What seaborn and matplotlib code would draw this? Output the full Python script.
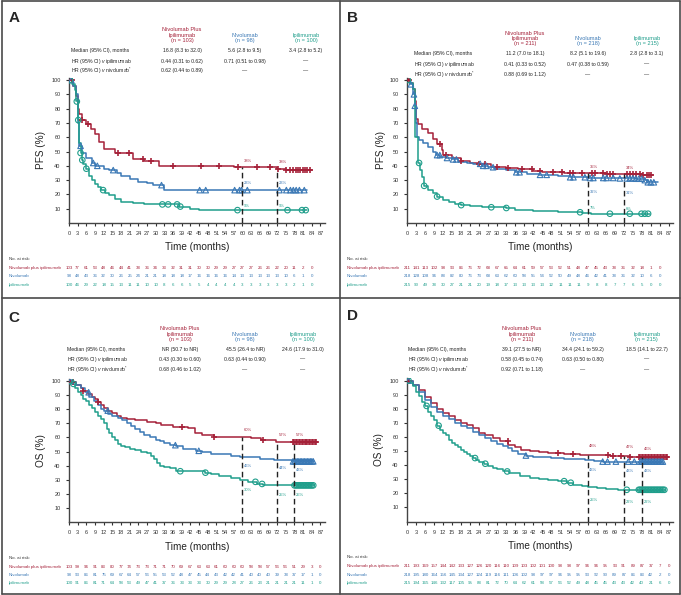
import numpy as np
import matplotlib.pyplot as plt
import matplotlib.transforms as mtransforms
from matplotlib.lines import Line2D
import seaborn as sns

RED, BLUE, TEAL = '#a52139', '#3a78b5', '#1f9e8b'
colors = [RED, BLUE, TEAL]
markers = ['+', '^', 'o']
arm_names = ['Nivolumab plus ipilimumab', 'Nivolumab', 'Ipilimumab']
month_ticks = list(range(0, 88, 3))
pct_ticks = list(range(10, 101, 10))
row_labels = ['Median (95% CI), months',
              'HR (95% CI) $\\mathit{v}$ ipilimumab',
              'HR (95% CI) $\\mathit{v}$ nivolumab$^{*}$']

# %% panel A (PFS)
a_ni_t = [0, 1.5, 2.5, 3, 3.5, 4.5, 6, 7.5, 9, 10.5, 12, 16, 22, 26, 31, 57, 72, 75, 84]
a_ni_s = [100, 96, 89, 80, 76, 72, 69, 66, 62, 57, 52, 49, 45, 43.5, 40, 39, 38, 37, 37]
a_ni_cens = [1.0, 4.5, 6.5, 17, 20.6, 25.7, 28.2, 36.1, 45.8, 52, 58.6, 65.2, 69.6, 72.4, 75,
             76.5, 77.6, 78.5, 79.2, 80, 80.8, 81.5, 82.3, 83.5]
a_n_t = [0, 1.5, 2.5, 3, 3.5, 4.5, 6, 8, 9, 12, 14, 16.5, 18, 21, 24, 27, 29, 33, 82.3]
a_n_s = [100, 96, 90, 70, 54, 49, 45.5, 42, 40, 38, 37, 35, 33, 31, 29, 28, 26.5, 23, 23]
a_n_cens = [0.8, 4, 8.4, 9.8, 15.3, 32, 45.2, 47.3, 57.3, 59, 59.7, 61.7, 72.8, 75.2, 76.6,
            77.6, 78.6, 79.7, 81.4]
a_i_t = [0, 1, 2, 2.5, 3, 3.5, 4, 4.5, 5, 6, 7, 8, 9, 10, 11, 12.5, 14, 16, 18, 22, 26, 38, 42, 45, 82.3]
a_i_s = [100, 97, 93, 85, 72, 56, 49, 44, 41, 38, 33, 30, 27, 25, 23, 21, 19.5, 17, 14.5, 14, 13,
         11.5, 10, 9, 9]
a_i_cens = [0.3, 2.7, 3.2, 4, 4.6, 6, 11.8, 32.3, 34.3, 37.4, 38.5, 58.3, 75.6, 80.6, 81.9]
a_risk_ni = [103, 77, 61, 53, 48, 46, 44, 41, 38, 36, 34, 33, 32, 31, 31, 30, 30, 29, 29, 27,
             27, 27, 26, 26, 22, 20, 11, 2, 0]
a_risk_n = [98, 48, 43, 36, 32, 30, 26, 25, 24, 21, 21, 18, 18, 18, 17, 16, 16, 16, 16, 14,
            13, 13, 13, 13, 13, 10, 6, 1, 0]
a_risk_i = [100, 46, 29, 22, 18, 15, 13, 11, 11, 10, 10, 8, 6, 6, 5, 5, 4, 4, 4, 4,
            3, 3, 3, 3, 3, 3, 2, 1, 0]
a_landmarks = [60, 72]
a_pct = [[38, 23, 9], [38, 23, 9]]
a_header = ['Nivolumab Plus\nIpilimumab\n(n = 103)', 'Nivolumab\n(n = 98)', 'Ipilimumab\n(n = 100)']
a_median = ['16.8 (8.3 to 32.0)', '5.6 (2.8 to 9.5)', '3.4 (2.8 to 5.2)']
a_hr_ipi = ['0.44 (0.31 to 0.62)', '0.71 (0.51 to 0.98)', '—']
a_hr_nivo = ['0.62 (0.44 to 0.89)', '—', '—']

# %% panel B (PFS)
b_ni_t = [0, 1, 2, 2.5, 3, 3.8, 5, 7, 8.5, 10, 11.5, 12, 15, 18, 21, 24, 28, 33, 37, 42, 45,
          52, 66, 72, 78, 81.8]
b_ni_s = [100, 98, 94, 85, 73, 69, 66, 63, 59, 55, 51, 47.5, 45.5, 43.5, 42, 41, 39.5, 38.5,
          37.5, 36.5, 35.5, 35, 34.5, 34, 33.5, 33.5]
b_ni_cens = [0.5, 11, 13, 18, 24, 26, 29.8, 33.7, 38.1, 41.4, 44.2, 48.6, 51.4, 54.2, 55.3, 58,
             61.4, 62.5, 65.2, 66.3, 67.4, 68.5, 73, 74, 75.2, 76, 77.4, 78.5, 79.6, 80.5, 81.2]
b_n_t = [0, 1, 2, 2.6, 3, 3.4, 4, 5.3, 7, 8.5, 9.5, 11, 13, 15, 17, 20, 22, 25, 27, 29, 33, 36,
         40, 44, 50, 54, 60, 70, 76, 79, 80, 83.4]
b_n_s = [100, 97, 90, 82, 70, 60, 58, 56, 53.5, 50, 47.5, 46.5, 45.5, 44.5, 43, 42, 41.4, 40,
         39, 37.7, 37, 35.5, 34.5, 33.7, 32.7, 32, 31.5, 31.2, 31, 30, 28.5, 28.5]
b_n_cens = [1.3, 2.3, 2.6, 10, 10.9, 13.3, 15.3, 16.4, 24.3, 25.3, 26.4, 28.6, 36.3, 37.4, 44.2,
            46.4, 54.2, 55.3, 59.1, 60.8, 61.9, 65.2, 66.3, 68.5, 70.7, 73, 74, 75, 76, 77, 78,
            79, 80, 81, 82]
b_i_t = [0, 1, 2, 2.7, 3.5, 4.2, 5, 5.5, 7, 8.5, 10, 12, 14, 16, 18, 21, 25, 28, 33, 36, 42, 50,
         56, 58, 61, 80.7]
b_i_s = [100, 98, 94, 60, 42, 37, 32, 26, 23, 21, 18.5, 16, 14.5, 13.5, 12.5, 12, 11.5, 11,
         10.5, 9, 8.5, 8, 7.5, 7, 6.5, 6.5]
b_i_cens = [0.3, 4, 5.7, 10, 18, 28, 33, 57.5, 67.4, 74, 77.9, 79, 80.1]
b_risk_ni = [211, 141, 113, 102, 98, 93, 86, 76, 72, 68, 67, 65, 64, 61, 59, 57, 53, 52, 51,
             48, 47, 45, 43, 38, 36, 32, 18, 1, 0]
b_risk_n = [218, 128, 108, 96, 88, 82, 80, 76, 73, 68, 63, 62, 60, 58, 55, 54, 52, 50, 49, 48,
            46, 42, 41, 38, 36, 32, 10, 6, 0]
b_risk_i = [215, 90, 49, 38, 30, 27, 21, 21, 20, 19, 18, 17, 13, 13, 13, 13, 12, 11, 11, 11,
            9, 8, 8, 7, 7, 6, 5, 0, 0]
b_landmarks = [60, 72]
b_pct = [[35, 32, 7], [34, 31, 6]]
b_header = ['Nivolumab Plus\nIpilimumab\n(n = 211)', 'Nivolumab\n(n = 218)', 'Ipilimumab\n(n = 215)']
b_median = ['11.2 (7.0 to 18.1)', '8.2 (5.1 to 19.6)', '2.8 (2.8 to 3.1)']
b_hr_ipi = ['0.41 (0.33 to 0.52)', '0.47 (0.38 to 0.59)', '—']
b_hr_nivo = ['0.88 (0.69 to 1.12)', '—', '—']

# %% panel C (OS)
c_ni_t = [0, 1, 2.5, 4, 5, 6.5, 8, 9, 10, 11, 12, 13.5, 15, 16.5, 18, 20, 23, 27, 30, 32, 36,
          41, 43.5, 46, 50, 56, 63, 66.5, 71.5, 85.8]
c_ni_s = [100, 99, 97, 95, 93, 91, 89, 87, 85, 83, 81, 79, 77, 75.5, 74, 73, 72, 71, 70, 68.5,
          67.5, 66.5, 63, 62, 60.5, 60, 59.5, 58.5, 57, 57]
c_ni_cens = [0.5, 1.5, 5, 10, 39, 50, 67, 77.5, 78, 78.5, 79, 79.5, 80, 80.5, 81, 81.5, 82,
             82.5, 83, 83.5, 84, 84.5, 85, 85.5]
c_n_t = [0, 1, 2.5, 4, 5.5, 7, 8.5, 10, 11, 12, 13.5, 15, 17, 18.5, 20, 21.5, 23, 24.5, 26, 28,
         30, 31.5, 33, 35, 37, 39.5, 42, 44, 46, 49, 52, 56, 59, 66, 71, 77, 84.6]
c_n_s = [100, 99, 97, 95, 92, 89, 86, 83, 80.5, 79, 76.5, 75, 73.5, 72, 70.5, 68, 66, 64, 62, 60,
         58.5, 57.5, 56, 54.5, 54, 52, 51.5, 50.5, 49.5, 48.5, 48, 47, 46, 45, 44, 43, 43]
c_n_cens = [0.5, 6.8, 13.4, 36.8, 44.9, 77.5, 78, 78.5, 79, 79.5, 80, 80.5, 81, 81.5, 82, 82.5,
            83, 83.5, 84, 84.5]
c_i_t = [0, 1, 2, 3, 4, 5, 6, 7, 8, 9, 10, 11, 12, 13, 14, 15, 16, 17, 18, 19.5, 21, 23, 25, 27,
         28.5, 29.5, 30.5, 31.5, 33, 35, 37, 47, 49, 52, 56, 59, 62, 65, 67, 84.6]
c_i_s = [100, 98, 95, 92, 90, 87, 86, 83, 81, 78, 75, 73, 70, 66, 63, 60, 58, 55, 54, 53, 52, 51,
         50, 49, 47, 45, 42, 40, 39, 38, 36, 35, 34, 32.5, 31, 30, 28.5, 27, 26, 26]
c_i_cens = [0.5, 1.5, 38.5, 47.2, 64.5, 66.8, 78, 78.5, 79, 79.5, 80, 80.5, 81, 81.5, 82, 82.5,
            83, 83.5, 84, 84.5]
c_risk_ni = [103, 99, 96, 91, 83, 80, 77, 74, 73, 73, 71, 71, 70, 69, 67, 63, 63, 61, 60, 60,
             60, 58, 58, 57, 56, 56, 51, 29, 3, 0]
c_risk_n = [98, 93, 86, 81, 75, 69, 67, 64, 57, 56, 55, 53, 52, 48, 47, 45, 44, 43, 42, 42,
            41, 40, 40, 40, 39, 38, 37, 17, 1, 0]
c_risk_i = [100, 91, 86, 81, 71, 64, 58, 53, 49, 47, 41, 37, 36, 33, 33, 33, 30, 29, 29, 28,
            27, 26, 23, 21, 21, 21, 21, 11, 1, 0]
c_landmarks = [60, 72, 78]
c_pct = [[60, 46, 30], [57, 44, 25], [57, 43, 25]]
c_header = ['Nivolumab Plus\nIpilimumab\n(n = 103)', 'Nivolumab\n(n = 98)', 'Ipilimumab\n(n = 100)']
c_median = ['NR (50.7 to NR)', '45.5 (26.4 to NR)', '24.6 (17.9 to 31.0)']
c_hr_ipi = ['0.43 (0.30 to 0.60)', '0.63 (0.44 to 0.90)', '—']
c_hr_nivo = ['0.68 (0.46 to 1.02)', '—', '—']

# %% panel D (OS)
d_ni_t = [0, 2, 4, 6, 8, 10, 12, 14, 16, 18, 20, 22, 24, 26, 28.5, 31, 33.5, 36, 38, 41, 44, 47,
          52, 57.5, 63, 67.5, 72, 74, 77, 86.8]
d_ni_s = [100, 97, 93, 88, 84, 80, 77, 74.5, 72, 70, 68.5, 66, 63, 61, 59, 57, 54.5, 52.5, 51,
          50, 49, 48.5, 48, 47.5, 47, 46.8, 46.5, 46, 45.5, 45.5]
d_ni_cens = [0.5, 33.4, 50, 55.1, 66.8, 68.4, 71.2, 74, 77, 77.5, 78, 78.5, 79, 79.5, 80, 80.5,
             81, 81.5, 82, 82.5, 83, 83.5, 84, 84.5, 85, 85.5, 86, 86.5]
d_n_t = [0, 2, 4, 6, 8, 10, 12, 14, 16, 18, 20, 22, 24, 26, 28, 30, 32, 33.5, 35, 37, 39.5, 42,
         45, 48, 52, 56, 59, 62, 65, 85.2]
d_n_s = [100, 97, 92, 86, 81, 77.5, 75, 72.5, 70, 68, 66, 63.5, 61, 59, 57, 55, 53.5, 52, 50,
         48, 46.8, 46, 45.5, 45, 44.5, 44, 43.5, 43, 42.5, 42.5]
d_n_cens = [0.5, 39.5, 65, 66.6, 69.4, 73.5, 75.5, 77.5, 78, 78.5, 79, 79.5, 80, 80.5, 81, 81.5,
            82, 82.5, 83, 83.5, 84, 84.5, 85]
d_i_t = [0, 1, 2, 3, 4, 5, 6, 7, 8, 9, 10, 11, 12, 13, 14, 15, 16, 17, 18, 19, 20, 21, 22, 23, 24,
         25.5, 27, 28.5, 30, 32, 34, 37.5, 41, 44, 47, 50, 53, 55, 58, 60, 63, 66, 70, 85.8]
d_i_s = [100, 98, 96, 92, 89, 85, 82, 78, 75, 72, 68, 65, 63, 61, 58, 56, 54, 53, 51, 49.5, 48,
         46.5, 45, 43.5, 42.5, 41, 39.5, 38, 37, 35.5, 34.5, 32, 31, 30.3, 29.5, 28.6, 27.5, 26.2,
         25.5, 24.5, 23.5, 23, 22.5, 22.5]
d_i_cens = [0.5, 6.5, 10.5, 22.6, 26, 33.3, 52.2, 54.4, 73, 77, 77.5, 78, 78.5, 79, 79.5, 80,
            80.5, 81, 81.5, 82, 82.5, 83, 83.5, 84, 84.5, 85, 85.5]
d_risk_ni = [211, 193, 169, 157, 144, 142, 133, 127, 126, 120, 116, 110, 109, 103, 102, 101, 100,
             98, 98, 97, 96, 96, 95, 93, 91, 89, 87, 37, 7, 0]
d_risk_n = [218, 195, 180, 164, 156, 145, 134, 127, 124, 119, 116, 111, 106, 102, 98, 97, 97, 96,
            95, 95, 93, 92, 90, 89, 87, 86, 83, 42, 2, 0]
d_risk_i = [215, 194, 165, 146, 132, 117, 105, 95, 88, 81, 72, 70, 64, 62, 61, 58, 57, 56, 52,
            49, 48, 45, 45, 43, 43, 42, 40, 21, 6, 0]
d_landmarks = [60, 72, 78]
d_pct = [[48, 43, 25], [47, 43, 22], [46, 43, 22]]
d_header = ['Nivolumab Plus\nIpilimumab\n(n = 211)', 'Nivolumab\n(n = 218)', 'Ipilimumab\n(n = 215)']
d_median = ['39.1 (27.5 to NR)', '34.4 (24.1 to 59.2)', '18.5 (14.1 to 22.7)']
d_hr_ipi = ['0.58 (0.45 to 0.74)', '0.63 (0.50 to 0.80)', '—']
d_hr_nivo = ['0.92 (0.71 to 1.18)', '—', '—']

panels = [
    dict(letter='A', ylabel='PFS (%)', t=[a_ni_t, a_n_t, a_i_t], s=[a_ni_s, a_n_s, a_i_s],
         cens=[a_ni_cens, a_n_cens, a_i_cens], risk=[a_risk_ni, a_risk_n, a_risk_i],
         landmarks=a_landmarks, pct=a_pct, header=a_header, rows=[a_median, a_hr_ipi, a_hr_nivo]),
    dict(letter='B', ylabel='PFS (%)', t=[b_ni_t, b_n_t, b_i_t], s=[b_ni_s, b_n_s, b_i_s],
         cens=[b_ni_cens, b_n_cens, b_i_cens], risk=[b_risk_ni, b_risk_n, b_risk_i],
         landmarks=b_landmarks, pct=b_pct, header=b_header, rows=[b_median, b_hr_ipi, b_hr_nivo]),
    dict(letter='C', ylabel='OS (%)', t=[c_ni_t, c_n_t, c_i_t], s=[c_ni_s, c_n_s, c_i_s],
         cens=[c_ni_cens, c_n_cens, c_i_cens], risk=[c_risk_ni, c_risk_n, c_risk_i],
         landmarks=c_landmarks, pct=c_pct, header=c_header, rows=[c_median, c_hr_ipi, c_hr_nivo]),
    dict(letter='D', ylabel='OS (%)', t=[d_ni_t, d_n_t, d_i_t], s=[d_ni_s, d_n_s, d_i_s],
         cens=[d_ni_cens, d_n_cens, d_i_cens], risk=[d_risk_ni, d_risk_n, d_risk_i],
         landmarks=d_landmarks, pct=d_pct, header=d_header, rows=[d_median, d_hr_ipi, d_hr_nivo]),
]

# layout in pixels of the 681x595 canvas
layouts = [
    dict(box=(69, 324.8, 223, 77.9), letter=(14, 17.5), cols=[182, 245, 306], head_bottom=43,
         row_x=71, rows_y=[50.7, 61, 70.7], xlab_y=247, ylab_x=41, risk_x=9,
         risk_y=[259, 267.7, 276, 285], pct_off=[4.5, 5, 3]),
    dict(box=(407, 673.4, 223, 77.9), letter=(352, 17.5), cols=[525, 588, 647], head_bottom=46.5,
         row_x=414, rows_y=[54, 64.3, 74.7], xlab_y=247.3, ylab_x=380.5, risk_x=347,
         risk_y=[259, 267.7, 276, 285], pct_off=[4.5, -10, 3.5]),
    dict(box=(69, 324.8, 522, 378.9), letter=(14, 317.5), cols=[180, 245, 303], head_bottom=342,
         row_x=66.7, rows_y=[349.3, 359.3, 370], xlab_y=547.3, ylab_x=41, risk_x=9,
         risk_y=[557.7, 566.7, 575, 583.3], pct_off=[5, -6, -7]),
    dict(box=(407, 673.4, 521.5, 378.4), letter=(352, 316), cols=[521.7, 582.7, 646.7],
         head_bottom=342, row_x=408.3, rows_y=[349.3, 359.3, 370], xlab_y=546, ylab_x=379,
         risk_x=347, risk_y=[557.3, 566, 575, 583.3], pct_off=[6, -7, -9]),
]

W, H = 681, 595
sns.set_style('ticks')
plt.rcParams['font.family'] = ['Liberation Sans', 'DejaVu Sans']
plt.rcParams['mathtext.fontset'] = 'custom'
plt.rcParams['mathtext.rm'] = 'Liberation Sans'
plt.rcParams['mathtext.it'] = 'Liberation Sans:italic'

fig = plt.figure(figsize=(W / 100, H / 100), dpi=100)


def fx(px):
    return px / W


def fy(py):
    return 1 - py / H


def step_at(t, s, x):
    idx = np.searchsorted(np.asarray(t), np.asarray(x), side='right') - 1
    return np.asarray(s)[idx]


for p, lay in zip(panels, layouts):
    left, right, bottom, top = lay['box']
    ax = fig.add_axes([fx(left), fy(bottom), (right - left) / W, (bottom - top) / H])

    for i in range(3):
        t, s, cens = p['t'][i], p['s'][i], p['cens'][i]
        sns.lineplot(x=t, y=s, drawstyle='steps-post', color=colors[i], linewidth=1.1,
                     estimator=None, sort=False, ax=ax, legend=False, zorder=2)
        cy = step_at(t, s, cens)
        if markers[i] == '+':
            sns.scatterplot(x=cens, y=cy, marker='+', s=22, color=colors[i], linewidth=1.2,
                            ax=ax, legend=False, zorder=3)
        else:
            sns.scatterplot(x=cens, y=cy, marker=markers[i], s=16, color=colors[i],
                            facecolor='none', edgecolor=colors[i], linewidth=0.8,
                            ax=ax, legend=False, zorder=3)

    tops = step_at(p['t'][0], p['s'][0], p['landmarks'])
    ax.vlines(p['landmarks'], 0, tops, colors='#222222', linestyles=(0, (4, 2.5)),
              linewidth=1.0, zorder=4)
    for lm, vals in zip(p['landmarks'], p['pct']):
        for i in range(3):
            yv = step_at(p['t'][i], p['s'][i], lm) + lay['pct_off'][i]
            ax.text(lm + 0.6, yv, f'{vals[i]}%', color=colors[i], fontsize=3,
                    ha='left', va='center')

    ax.set_xlim(0, 88.5)
    ax.set_ylim(0, 101.5)
    ax.set_xticks(month_ticks)
    ax.set_yticks(pct_ticks)
    ax.tick_params(axis='both', labelsize=4, length=2.5, width=0.8, pad=3.5,
                   colors='#333333')
    sns.despine(ax=ax)
    for sp in ['left', 'bottom']:
        ax.spines[sp].set_color('#444444')
        ax.spines[sp].set_linewidth(1.0)
    wpx, hpx = right - left, bottom - top
    ax.set_xlabel('Time (months)', fontsize=7.2, color='#222222')
    ax.xaxis.label.set_va('center')
    ax.xaxis.set_label_coords(0.5, (bottom - lay['xlab_y']) / hpx)
    ax.set_ylabel(p['ylabel'], fontsize=7.2, color='#222222')
    ax.yaxis.label.set_va('center')
    ax.yaxis.set_label_coords((lay['ylab_x'] - left) / wpx, 0.5)

    # table above the curves
    fig.text(fx(lay['letter'][0]), fy(lay['letter'][1]), p['letter'], fontsize=11,
             fontweight='bold', ha='center', va='center')
    for i in range(3):
        fig.text(fx(lay['cols'][i]), fy(lay['head_bottom']), p['header'][i], color=colors[i],
                 fontsize=4.1, ha='center', va='bottom', linespacing=1.1)
    for r in range(3):
        fig.text(fx(lay['row_x']), fy(lay['rows_y'][r]), row_labels[r], fontsize=3.7,
                 ha='left', va='center', color='#222222')
        for i in range(3):
            fig.text(fx(lay['cols'][i]), fy(lay['rows_y'][r]), p['rows'][r][i], fontsize=3.7,
                     ha='center', va='center', color='#222222')

    # numbers at risk
    trans = mtransforms.blended_transform_factory(ax.transData, fig.transFigure)
    fig.text(fx(lay['risk_x']), fy(lay['risk_y'][0]), 'No. at risk:', fontsize=3.2,
             ha='left', va='center', color='#333333')
    for i in range(3):
        ry = fy(lay['risk_y'][i + 1])
        fig.text(fx(lay['risk_x']), ry, arm_names[i], fontsize=3.2, ha='left', va='center',
                 color=colors[i])
        for m, n in zip(month_ticks, p['risk'][i]):
            ax.text(m, ry, str(n), transform=trans, fontsize=3.2, ha='center', va='center',
                    color=colors[i])

# panel frame
frame = '#4a4a4a'
for xs, ys in [((1.5, 1.5), (0.5, 594)), ((679.5, 679.5), (0.5, 594)),
               ((1.5, 679.5), (0.8, 0.8)), ((1.5, 679.5), (593.8, 593.8)),
               ((340, 340), (0.5, 594)), ((1.5, 679.5), (298, 298))]:
    fig.add_artist(Line2D([fx(x) for x in xs], [fy(y) for y in ys], color=frame,
                          linewidth=1.2, transform=fig.transFigure))

fig.savefig('out.png', dpi=100)
